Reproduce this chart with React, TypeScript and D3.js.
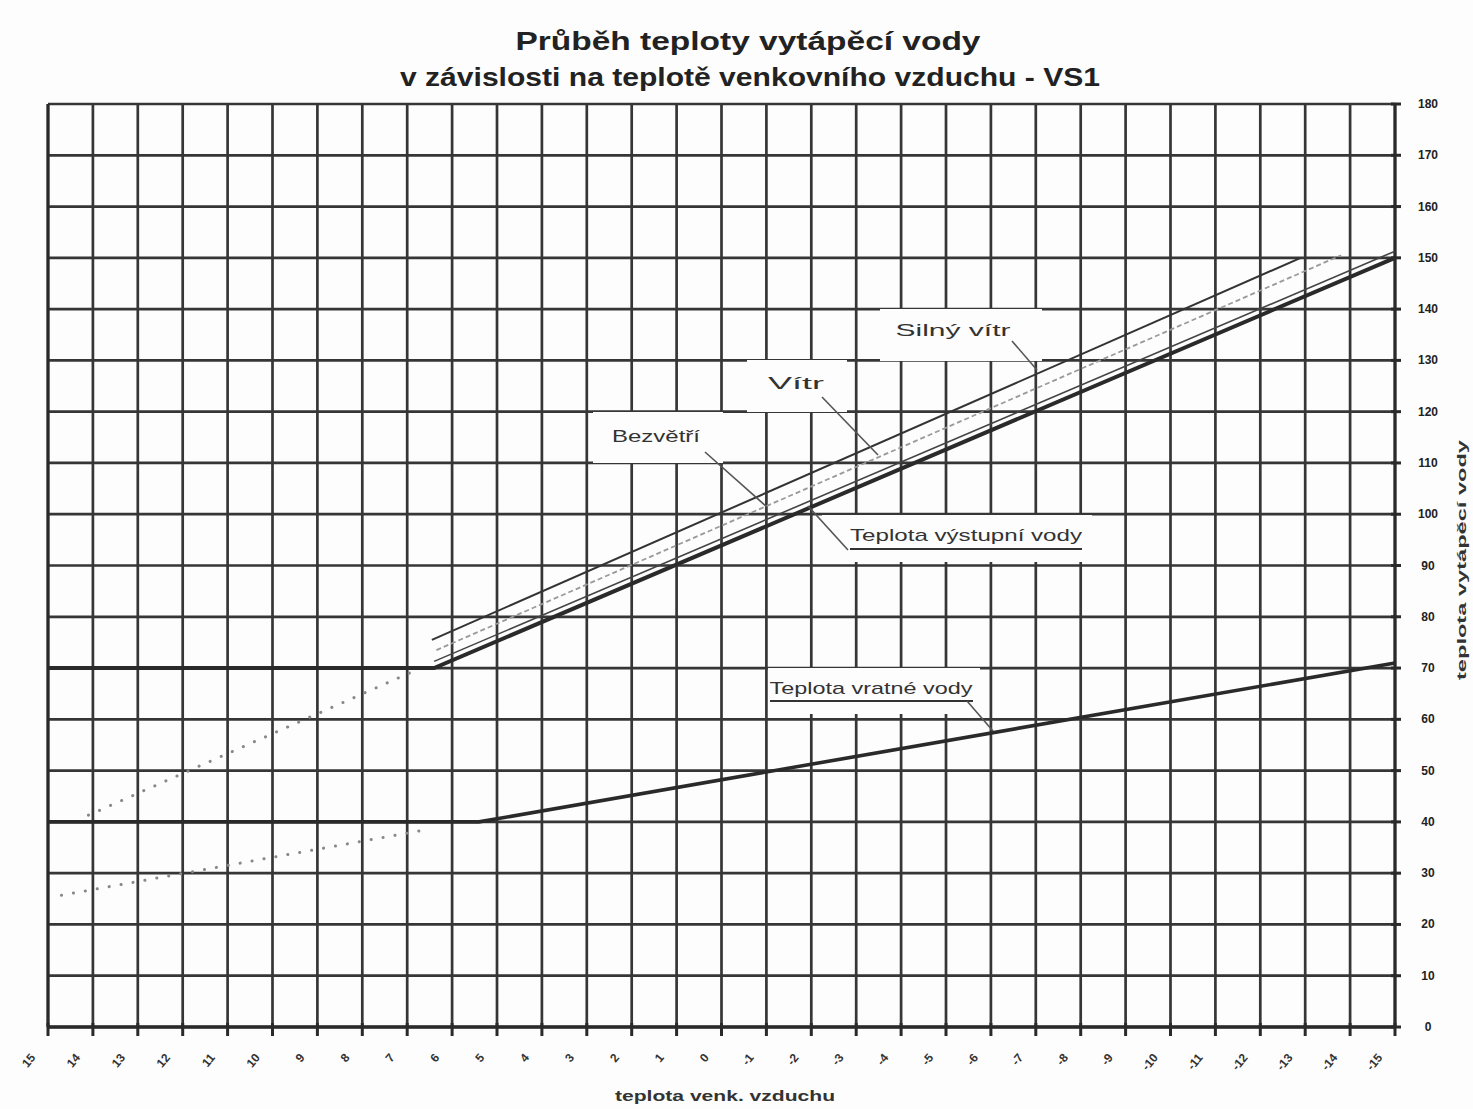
import React from "react";
import * as d3 from "d3";

// ---- data ----
const outdoorTicks = [15, 14, 13, 12, 11, 10, 9, 8, 7, 6, 5, 4, 3, 2, 1, 0, -1, -2, -3, -4, -5, -6, -7, -8, -9, -10, -11, -12, -13, -14, -15];
const waterTicks = [0, 10, 20, 30, 40, 50, 60, 70, 80, 90, 100, 110, 120, 130, 140, 150, 160, 170, 180];

// [outdoor temperature °C, water temperature °C]
const supplyWater: [number, number][] = [[15, 70], [6.4, 70], [-15, 150]];
const calmWind: [number, number][] = [[6.4, 71.3], [-15, 151.3]];
const wind: [number, number][] = [[6.35, 73.5], [-13.8, 150.5]];
const strongWind: [number, number][] = [[6.45, 75.5], [-12.9, 150]];
const returnWater: [number, number][] = [[15, 40], [5.4, 40], [-15, 71]];
const supplyExtension: [number, number][] = [[14.1, 41.3], [6.7, 70]];
const returnExtension: [number, number][] = [[14.7, 25.7], [6.5, 38.6]];

const W = 1473;
const H = 1109;
const L = 48, R = 1395, T = 104, B = 1027;
const FONT = "Arial, 'Liberation Sans', sans-serif";
const GRID = "#363636";

export default function App() {
  const x = d3.scaleLinear().domain([15, -15]).range([L, R]);
  const y = d3.scaleLinear().domain([0, 180]).range([B, T]);
  const line = d3.line<[number, number]>().x((d) => x(d[0])).y((d) => y(d[1]));

  const boxes = [
    { x0: 880, x1: 1042, y0: 309, y1: 361 },
    { x0: 747, x1: 847, y0: 360, y1: 412 },
    { x0: 593, x1: 723, y0: 412, y1: 463 },
    { x0: 822, x1: 1092, y0: 515, y1: 562 },
    { x0: 768, x1: 980, y0: 668, y1: 714 },
  ];

  return (
    <svg width={W} height={H} viewBox={`0 0 ${W} ${H}`} style={{ position: "absolute", left: 0, top: 0, background: "#fdfdfd" }}>
      <rect x={0} y={0} width={W} height={H} fill="#fdfdfd" />
      {/* title */}
      <text x={748} y={50} textAnchor="middle" fontFamily={FONT} fontWeight="bold" fontSize={26} fill="#222" textLength={465} lengthAdjust="spacingAndGlyphs">
        Průběh teploty vytápěcí vody
      </text>
      <text x={750} y={86} textAnchor="middle" fontFamily={FONT} fontWeight="bold" fontSize={26} fill="#222" textLength={700} lengthAdjust="spacingAndGlyphs">
        v závislosti na teplotě venkovního vzduchu - VS1
      </text>

      {/* grid */}
      {outdoorTicks.map((t) => (
        <line key={"v" + t} x1={x(t)} x2={x(t)} y1={T} y2={B} stroke={GRID} strokeWidth={2.7} />
      ))}
      {waterTicks.map((v) => (
        <line key={"h" + v} x1={L} x2={R} y1={y(v)} y2={y(v)} stroke={GRID} strokeWidth={2.7} />
      ))}

      {/* label boxes covering grid */}
      {boxes.map((b, i) => (
        <rect key={"b" + i} x={b.x0} y={b.y0} width={b.x1 - b.x0} height={b.y1 - b.y0} fill="#fdfdfd" />
      ))}

      {/* axes */}
      <line x1={L} x2={R} y1={B} y2={B} stroke="#2a2a2a" strokeWidth={3.5} />
      <line x1={R} x2={R} y1={T} y2={B} stroke="#2a2a2a" strokeWidth={3} />
      <line x1={L} x2={L} y1={T} y2={B} stroke="#2a2a2a" strokeWidth={3} />
      {outdoorTicks.map((t) => (
        <line key={"xt" + t} x1={x(t)} x2={x(t)} y1={B - 4} y2={B + 9} stroke="#2a2a2a" strokeWidth={3} />
      ))}
      {waterTicks.map((v) => (
        <line key={"yt" + v} x1={R - 4} x2={R + 6} y1={y(v)} y2={y(v)} stroke="#2a2a2a" strokeWidth={3} />
      ))}

      {/* tick labels */}
      {outdoorTicks.map((t) => (
        <text key={"xl" + t} transform={`translate(${x(t) - 12},${1058}) rotate(-50)`} textAnchor="end" fontFamily={FONT} fontWeight="bold" fontSize={12} fill="#333">
          {t}
        </text>
      ))}
      {waterTicks.map((v) => (
        <text key={"yl" + v} x={1428} y={y(v) + 4} textAnchor="middle" fontFamily={FONT} fontWeight="bold" fontSize={12} fill="#222">
          {v}
        </text>
      ))}

      {/* axis titles */}
      <text x={725} y={1101} textAnchor="middle" fontFamily={FONT} fontWeight="bold" fontSize={14} fill="#333" textLength={220} lengthAdjust="spacingAndGlyphs">
        teplota venk. vzduchu
      </text>
      <text transform={`translate(1466,560) rotate(-90)`} textAnchor="middle" fontFamily={FONT} fontWeight="bold" fontSize={12} fill="#333" textLength={240} lengthAdjust="spacingAndGlyphs">
        teplota vytápěcí vody
      </text>

      {/* dotted extensions */}
      <path d={line(supplyExtension) || ""} fill="none" stroke="#888" strokeWidth={3} strokeDasharray="0.1,12" strokeLinecap="round" />
      <path d={line(returnExtension) || ""} fill="none" stroke="#888" strokeWidth={3} strokeDasharray="0.1,12" strokeLinecap="round" />

      {/* curves */}
      <path d={line(strongWind) || ""} fill="none" stroke="#333" strokeWidth={2} />
      <path d={line(wind) || ""} fill="none" stroke="#9a9a9a" strokeWidth={1.8} strokeDasharray="5,3" />
      <path d={line(calmWind) || ""} fill="none" stroke="#444" strokeWidth={1.6} />
      <path d={line(supplyWater) || ""} fill="none" stroke="#2a2a2a" strokeWidth={4} />
      <path d={line(returnWater) || ""} fill="none" stroke="#2a2a2a" strokeWidth={3.6} />

      {/* annotations */}
      <text x={953} y={336} textAnchor="middle" fontFamily={FONT} fontSize={17} fill="#333" textLength={115} lengthAdjust="spacingAndGlyphs">Silný vítr</text>
      <line x1={1012} y1={341} x2={1037} y2={370} stroke="#555" strokeWidth={1.6} />

      <text x={796} y={389} textAnchor="middle" fontFamily={FONT} fontSize={17} fill="#333" textLength={56} lengthAdjust="spacingAndGlyphs">Vítr</text>
      <line x1={822} y1={397} x2={878} y2={455} stroke="#555" strokeWidth={1.6} />

      <text x={656} y={442} textAnchor="middle" fontFamily={FONT} fontSize={17} fill="#333" textLength={88} lengthAdjust="spacingAndGlyphs">Bezvětří</text>
      <line x1={705} y1={452} x2={767} y2={507} stroke="#555" strokeWidth={1.6} />

      <text x={966} y={541} textAnchor="middle" fontFamily={FONT} fontSize={17} fill="#333" textLength={232} lengthAdjust="spacingAndGlyphs">Teplota výstupní vody</text>
      <line x1={850} y1={549} x2={1082} y2={549} stroke="#333" strokeWidth={1.8} />
      <line x1={848} y1={550} x2={808} y2={506} stroke="#555" strokeWidth={1.6} />

      <text x={871} y={694} textAnchor="middle" fontFamily={FONT} fontSize={17} fill="#333" textLength={203} lengthAdjust="spacingAndGlyphs">Teplota vratné vody</text>
      <line x1={770} y1={701} x2={973} y2={701} stroke="#333" strokeWidth={1.8} />
      <line x1={967} y1={701} x2={993} y2={731} stroke="#555" strokeWidth={1.6} />
    </svg>
  );
}
